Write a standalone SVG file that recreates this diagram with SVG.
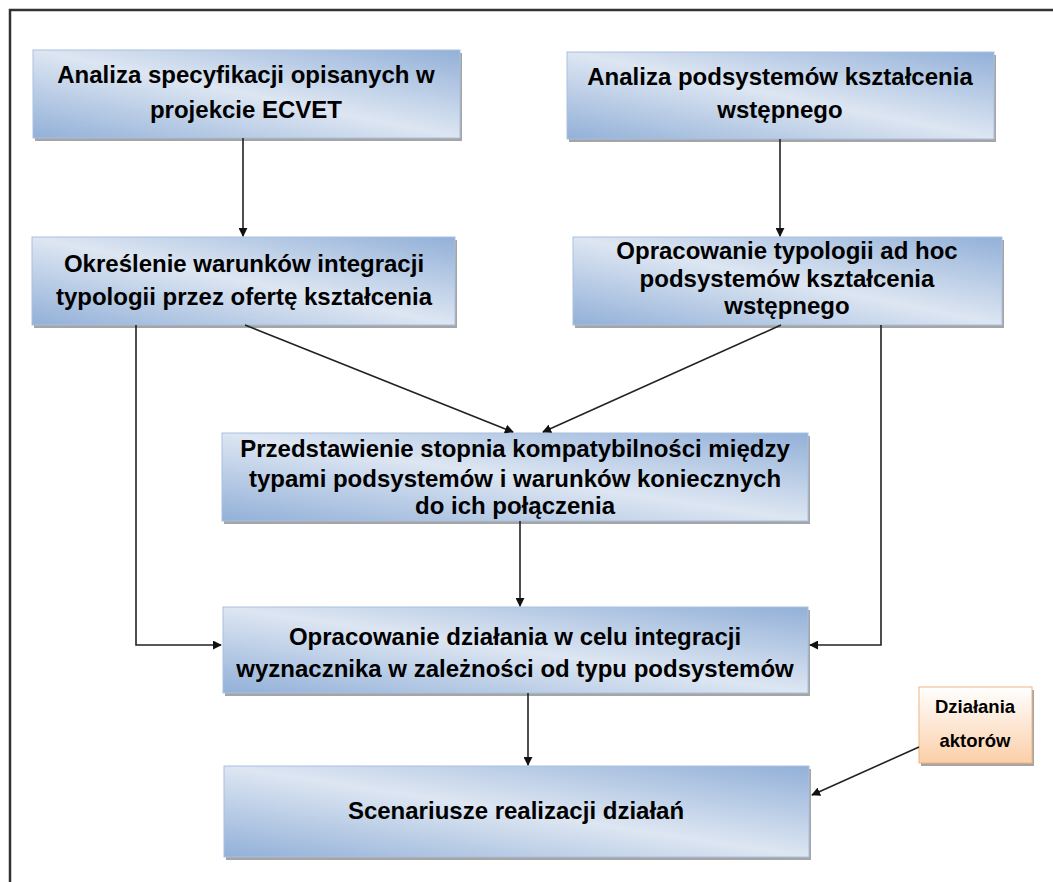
<svg xmlns="http://www.w3.org/2000/svg" width="1053" height="882" viewBox="0 0 1053 882">
  <defs>
    <linearGradient id="blue" x1="0" y1="1" x2="1" y2="0">
      <stop offset="0" stop-color="#92b0d8"/>
      <stop offset="0.5" stop-color="#dde6f2"/>
      <stop offset="1" stop-color="#92b0d8"/>
    </linearGradient>
    <linearGradient id="orange" x1="0" y1="0" x2="0" y2="1">
      <stop offset="0" stop-color="#ffffff"/>
      <stop offset="1" stop-color="#fbcfa8"/>
    </linearGradient>
    <marker id="arr" viewBox="0 0 10 10" refX="9" refY="5" markerWidth="9" markerHeight="9" markerUnits="userSpaceOnUse" orient="auto">
      <path d="M0,0 L10,5 L0,10 z" fill="#111"/>
    </marker>
    <style>
      .box { fill: url(#blue); stroke: #a9c0df; stroke-width: 1; }
      .obox { fill: url(#orange); stroke: #f0b482; stroke-width: 1; }
      .shadow { fill: #a5a5a5; }
      .t { font-family: "Liberation Sans", Arial, sans-serif; font-weight: bold; font-size: 24px; fill: #000; text-anchor: middle; }
      .ts { font-family: "Liberation Sans", Arial, sans-serif; font-weight: bold; font-size: 18.5px; fill: #000; text-anchor: middle; }
      .c { fill: none; stroke: #222; stroke-width: 1.6; marker-end: url(#arr); }
    </style>
  </defs>
  <rect x="0" y="0" width="1053" height="882" fill="#fff"/>
  <rect x="10" y="10" width="1070" height="900" fill="none" stroke="#333" stroke-width="2.5"/>

  <g id="n1">
    <rect class="shadow" x="35" y="53" width="427" height="88"/>
    <rect class="box" x="33" y="50" width="427" height="88"/>
    <text class="t" x="246" y="83">Analiza specyfikacji opisanych w</text>
    <text class="t" x="246" y="118">projekcie ECVET</text>
  </g>
  <g id="n2">
    <rect class="shadow" x="569" y="55" width="427" height="87"/>
    <rect class="box" x="567" y="52" width="427" height="87"/>
    <text class="t" x="780" y="85">Analiza podsystemów kształcenia</text>
    <text class="t" x="780" y="118">wstępnego</text>
  </g>
  <g id="n3">
    <rect class="shadow" x="34" y="240" width="423" height="88"/>
    <rect class="box" x="32" y="237" width="423" height="88"/>
    <text class="t" x="244" y="272">Określenie warunków integracji</text>
    <text class="t" x="244" y="305">typologii przez ofertę kształcenia</text>
  </g>
  <g id="n4">
    <rect class="shadow" x="575" y="240" width="429" height="88"/>
    <rect class="box" x="573" y="237" width="429" height="88"/>
    <text class="t" x="787" y="259">Opracowanie typologii ad hoc</text>
    <text class="t" x="787" y="287">podsystemów kształcenia</text>
    <text class="t" x="787" y="314">wstępnego</text>
  </g>
  <g id="n5">
    <rect class="shadow" x="224" y="436" width="586" height="88"/>
    <rect class="box" x="222" y="433" width="586" height="88"/>
    <text class="t" x="515" y="457">Przedstawienie stopnia kompatybilności między</text>
    <text class="t" x="515" y="487">typami podsystemów i warunków koniecznych</text>
    <text class="t" x="515" y="514">do ich połączenia</text>
  </g>
  <g id="n6">
    <rect class="shadow" x="225" y="610" width="585" height="86"/>
    <rect class="box" x="223" y="607" width="585" height="86"/>
    <text class="t" x="515" y="645">Opracowanie działania w celu integracji</text>
    <text class="t" x="515" y="677">wyznacznika w zależności od typu podsystemów</text>
  </g>
  <g id="n7">
    <rect class="shadow" x="226" y="769" width="585" height="91"/>
    <rect class="box" x="224" y="766" width="585" height="91"/>
    <text class="t" x="516" y="819">Scenariusze realizacji działań</text>
  </g>
  <g id="n8">
    <rect class="shadow" x="921" y="690" width="113" height="76"/>
    <rect class="obox" x="919" y="687" width="113" height="76"/>
    <text class="ts" x="975" y="713">Działania</text>
    <text class="ts" x="975" y="747">aktorów</text>
  </g>

  <g id="connectors">
    <path class="c" d="M243,138 L243,236"/>
    <path class="c" d="M780,139 L780,236"/>
    <path class="c" d="M136,325 L136,645 L221,645"/>
    <path class="c" d="M245,325 L513,432"/>
    <path class="c" d="M781,325 L543,432"/>
    <path class="c" d="M881,325 L881,645 L810,645"/>
    <path class="c" d="M520,521 L520,606"/>
    <path class="c" d="M528,693 L528,765"/>
    <path class="c" d="M919,747 L812,795"/>
  </g>
</svg>
